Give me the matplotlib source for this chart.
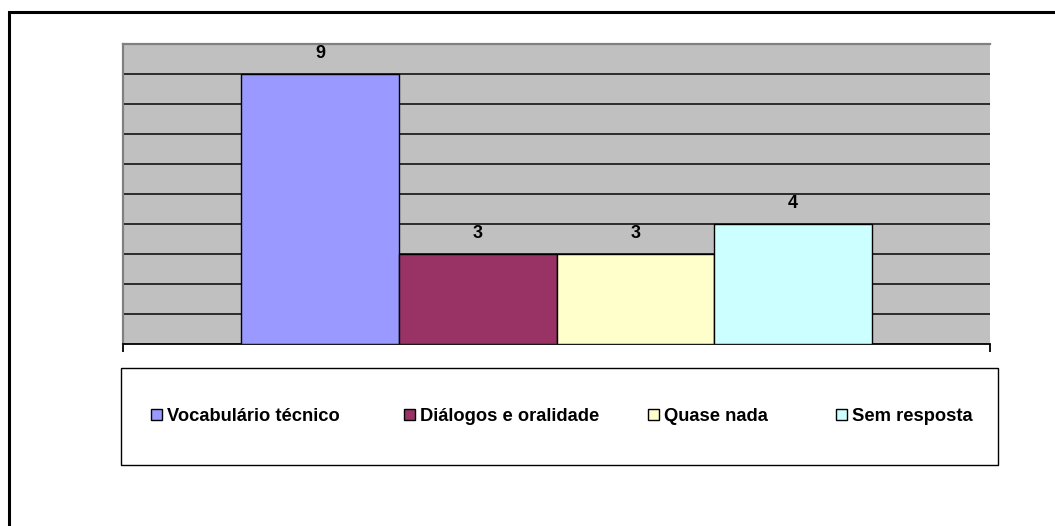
import numpy as np
import matplotlib
matplotlib.use("Agg")
import matplotlib.pyplot as plt
from matplotlib.patches import Rectangle

# data
series = ["Vocabulário técnico", "Diálogos e oralidade", "Quase nada", "Sem resposta"]
values = [9, 3, 3, 4]
colors = ["#9999FF", "#993366", "#FFFFCC", "#CCFFFF"]

plt.rcParams['font.family'] = ['Liberation Sans', 'DejaVu Sans']
plt.rcParams['font.weight'] = 'bold'

W, H = 1055, 526
fig = plt.figure(figsize=(W / 100, H / 100), dpi=100)
ax = fig.add_axes([123 / W, 1 - 344 / H, (990 - 123) / W, (344 - 44) / H])
ax.set_facecolor("#C0C0C0")

# one category, four series side by side (gap width 150%)
n = len(values)
w = 1 / (n + 1.5)
x0 = 0.75 * w
xs = x0 + w * np.arange(n) + w / 2
bars = ax.bar(xs, values, width=w, color=colors, edgecolor="black", linewidth=1.0, zorder=3)
for b, v in zip(bars, values):
    ax.annotate(str(v), (b.get_x() + b.get_width() / 2, v), xytext=(0, 9),
                textcoords="offset points", ha="center", va="bottom",
                fontsize=13, fontweight="bold")

ax.set_xlim(0, 1)
ax.set_ylim(0, 10)
ax.set_yticks(np.arange(1, 10))
ax.yaxis.grid(True, color="#202020", linewidth=1.3)
ax.set_axisbelow(True)
ax.tick_params(axis="y", length=0, labelleft=False)
ax.set_xticks([0, 1])
ax.tick_params(axis="x", length=6, width=1.3, color="black", direction="out", labelbottom=False)
for s in ["left", "top"]:
    ax.spines[s].set_color("#808080")
    ax.spines[s].set_linewidth(1.6)
ax.spines["right"].set_visible(False)
ax.spines["bottom"].set_color("black")
ax.spines["bottom"].set_linewidth(1.3)

# legend box
fig.patches.append(Rectangle((121 / W, 1 - 465 / H), (998 - 121) / W, (465 - 368) / H,
                             transform=fig.transFigure, facecolor="white",
                             edgecolor="black", linewidth=1.0))
# one legend entry per series, placed like the original
leg_x = [151, 404, 648, 836]
for b, name, lx in zip(bars, series, leg_x):
    leg = fig.legend([b], [name], loc="center left", bbox_to_anchor=(lx / W, 1 - 416.5 / H),
                     frameon=False, fontsize=13.2, handlelength=0.6, handleheight=0.6,
                     handletextpad=0.25, borderpad=0, borderaxespad=0)
    for t in leg.get_texts():
        t.set_fontweight("bold")

# outer frame
fig.patches.append(Rectangle((8.5 / W, -0.1), 1.2, 1 - 11.5 / H + 0.1,
                             transform=fig.transFigure, facecolor="none",
                             edgecolor="black", linewidth=2.2))

fig.savefig("out.png", dpi=100)
